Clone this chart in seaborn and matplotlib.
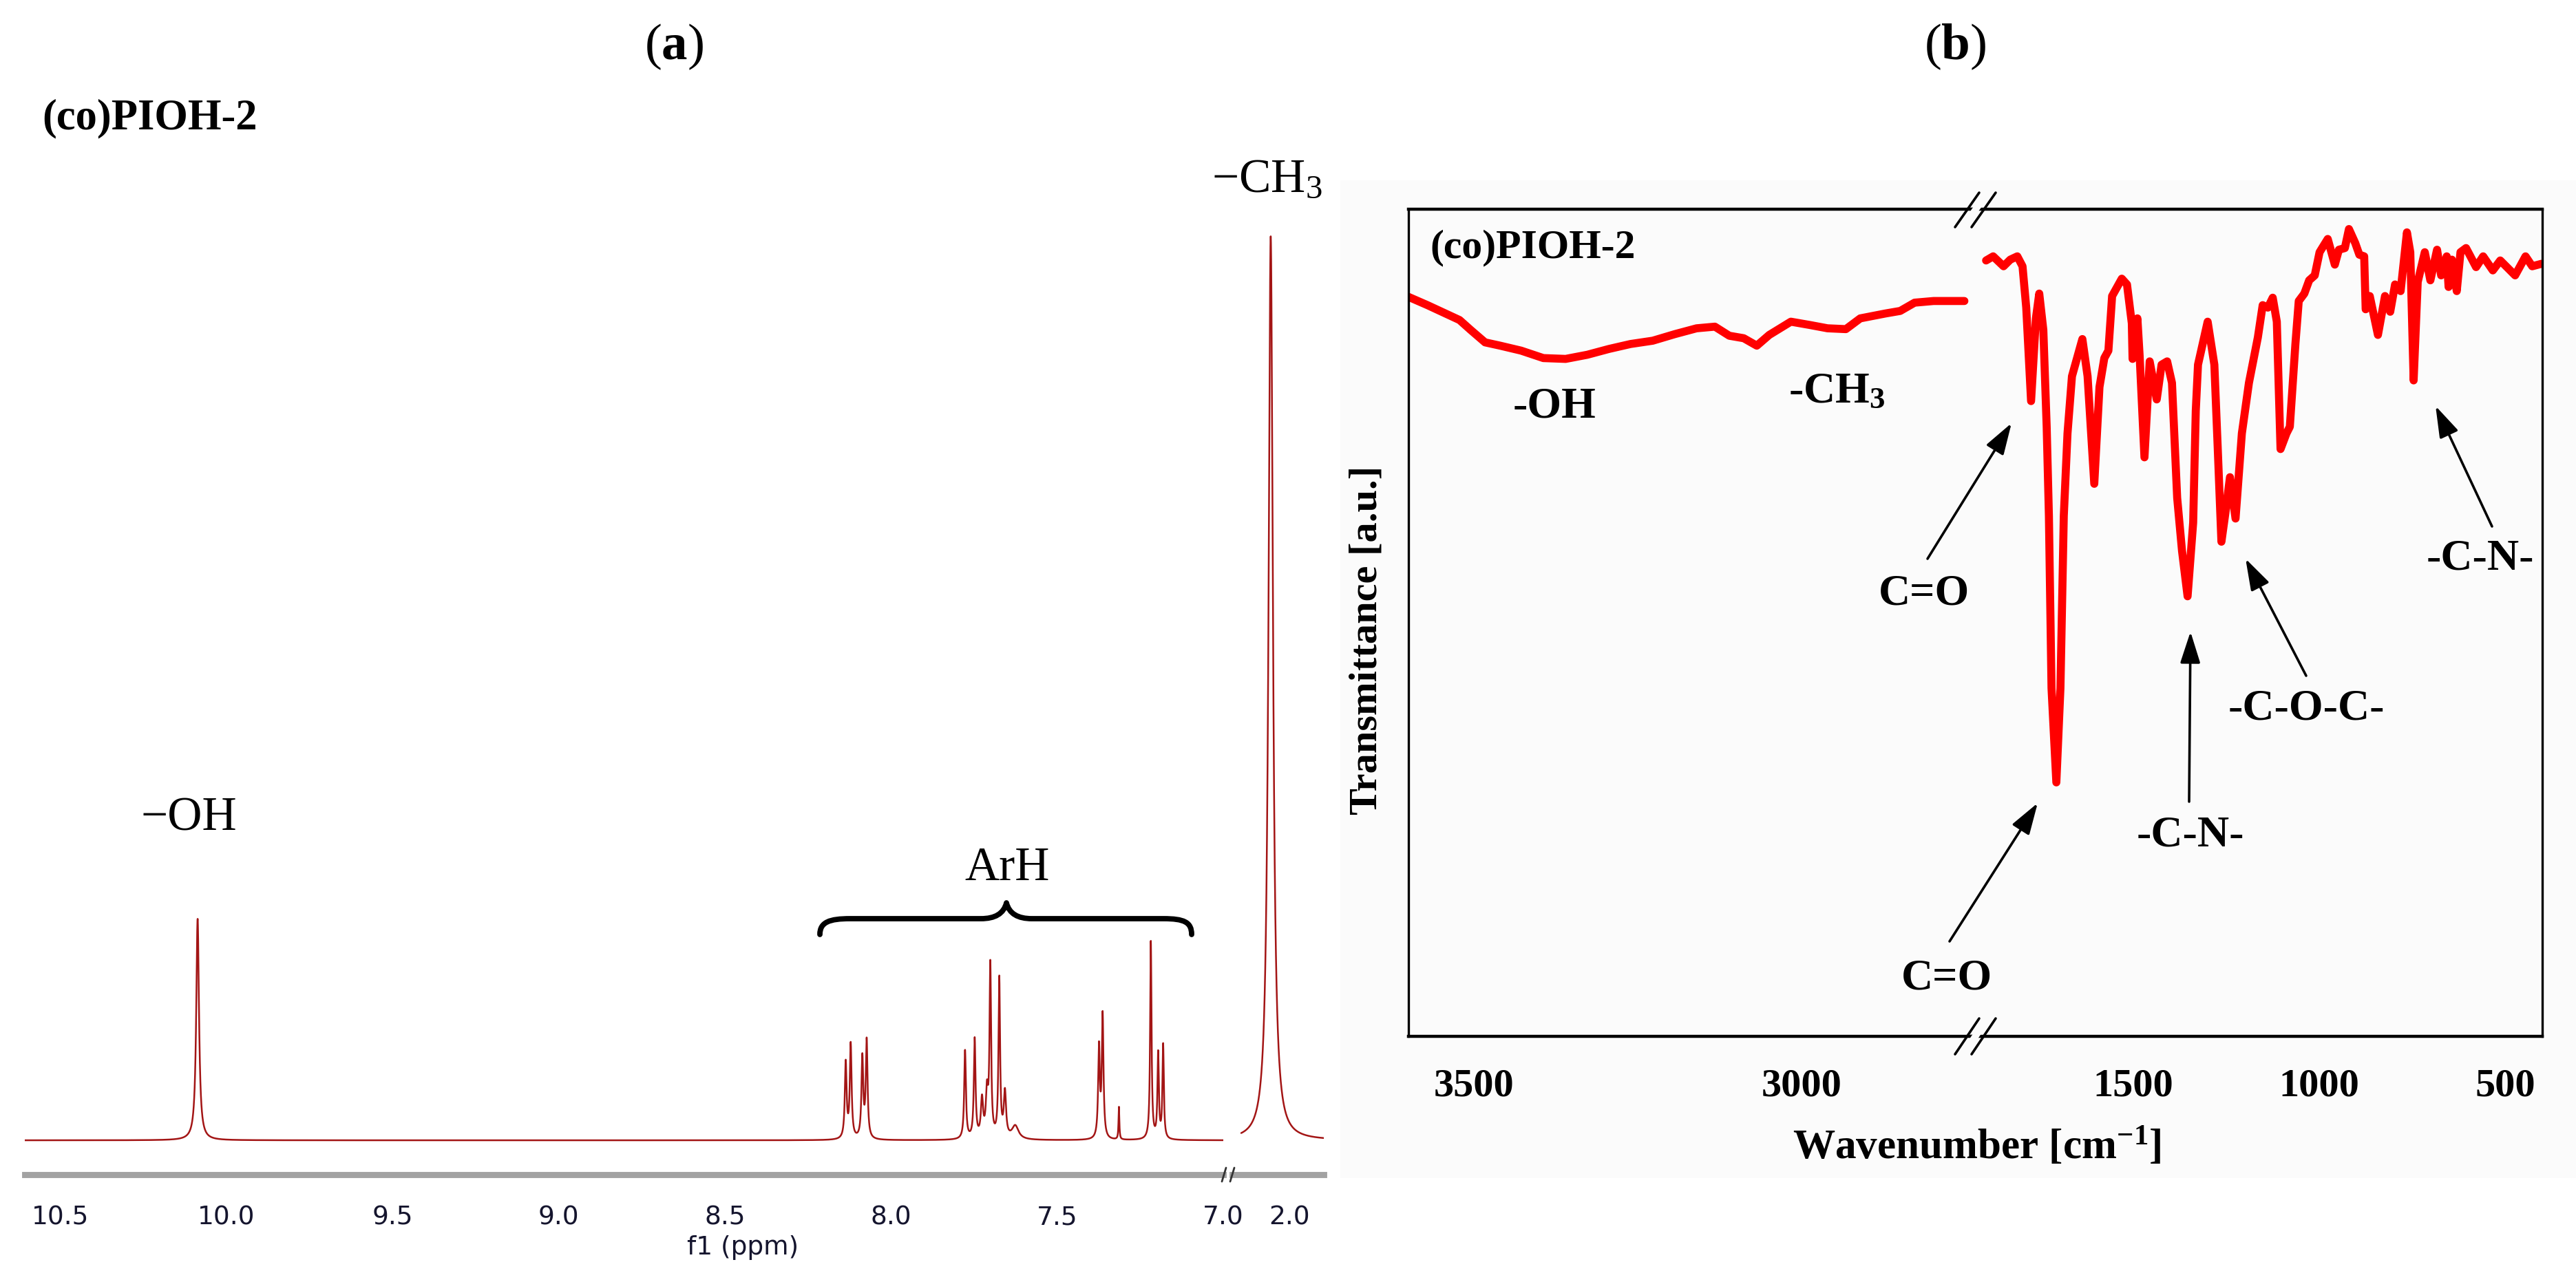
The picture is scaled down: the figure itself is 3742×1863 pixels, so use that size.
"""
NMR (a) and FTIR (b) spectra of (co)PIOH-2, redrawn with seaborn.
"""

import numpy as np
import pandas as pd
import matplotlib
matplotlib.use("Agg")
import matplotlib.pyplot as plt
import seaborn as sns
from matplotlib.path import Path
from matplotlib.patches import PathPatch, Rectangle, Polygon
from matplotlib.lines import Line2D


# figure size in pixels (saved at 200 dpi)
W, H = 3742, 1863
DPI = 200

# 1H NMR peaks: shift (ppm), height (CH3 = 100), half width (ppm)
NMR_SHIFT = [10.086, 8.136, 8.121, 8.086, 8.073, 7.777, 7.748, 7.726, 7.711,
             7.701, 7.674, 7.657, 7.626, 7.374, 7.363, 7.314, 7.218, 7.196,
             7.181, 2.056]
NMR_HEIGHT = [24.5, 8.4, 10.4, 8.9, 10.8, 9.8, 11.0, 4.2, 4.8,
              18.9, 17.6, 5.0, 1.5, 10.0, 13.6, 3.6, 21.9, 9.4,
              10.4, 100.0]
NMR_WIDTH = [0.005, 0.0032, 0.0032, 0.0032, 0.0032, 0.003, 0.003, 0.004, 0.004,
             0.0028, 0.0028, 0.004, 0.012, 0.003, 0.003, 0.0015, 0.0025, 0.0025,
             0.0025, 0.008]

NMR_MAJOR = [10.5, 10.0, 9.5, 9.0, 8.5, 8.0, 7.5, 7.0]
NMR_MINOR = [10.25, 9.75, 9.25, 8.75, 8.25, 7.75, 7.25]
NMR_MAJOR_2 = [2.0]

# FTIR trace: wavenumber (cm-1) and transmittance (a.u., 0-100)
IR_LEFT_WN = [3600, 3571, 3522, 3505, 3483, 3460, 3428, 3394, 3360, 3327,
              3294, 3261, 3227, 3193, 3160, 3132, 3110, 3088, 3068, 3049,
              3016, 2987, 2960, 2932, 2910, 2871, 2849, 2827, 2798, 2751]
IR_LEFT_T = [89.4, 88.4, 86.6, 85.4, 83.9, 83.5, 82.9, 82.0, 81.9, 82.4,
             83.1, 83.7, 84.1, 84.9, 85.6, 85.8, 84.7, 84.4, 83.5, 84.8,
             86.4, 86.0, 85.6, 85.5, 86.8, 87.4, 87.7, 88.7, 88.9, 88.9]

IR_RIGHT_WN = [1896, 1877, 1849, 1831, 1812, 1798, 1788, 1775, 1762, 1753,
               1742, 1733, 1727, 1720, 1707, 1696, 1687, 1677, 1665, 1637,
               1623, 1605, 1591, 1578, 1567, 1557, 1531, 1517, 1504, 1502,
               1489, 1483, 1470, 1456, 1437, 1424, 1409, 1396, 1382, 1369,
               1354, 1339, 1332, 1326, 1300, 1282, 1273, 1263, 1251, 1240,
               1225, 1208, 1189, 1165, 1152, 1138, 1125, 1114, 1104, 1088,
               1079, 1064, 1055, 1040, 1027, 1012, 999, 977, 958, 947,
               931, 920, 903, 892, 879, 875, 864, 842, 823, 809,
               796, 781, 764, 755, 746, 735, 716, 701, 683, 672,
               657, 652, 643, 630, 620, 605, 578, 559, 533, 513,
               473, 445, 427, 402]
IR_RIGHT_T = [93.8, 94.3, 93.1, 93.9, 94.3, 93.1, 88.1, 76.8, 86.8, 89.8,
              85.4, 73.7, 62.9, 42.1, 30.7, 42.1, 62.9, 72.9, 79.8, 84.3,
              79.8, 66.8, 78.5, 82.0, 82.9, 89.5, 91.6, 90.9, 86.2, 81.9,
              86.8, 82.3, 70.0, 81.6, 77.0, 81.2, 81.6, 79.0, 65.1, 58.7,
              53.2, 62.1, 75.6, 81.2, 86.4, 81.2, 71.2, 59.8, 63.7, 67.6,
              62.6, 72.9, 79.0, 84.5, 88.4, 88.1, 89.3, 86.4, 71.0, 72.9,
              73.7, 83.7, 88.9, 89.8, 91.4, 92.0, 94.8, 96.4, 93.3, 95.1,
              95.3, 97.6, 95.9, 94.5, 94.3, 87.9, 89.5, 84.8, 89.5, 87.6,
              90.9, 90.1, 97.2, 94.8, 79.3, 91.2, 94.8, 91.4, 95.1, 92.0,
              94.3, 90.6, 93.9, 90.1, 94.8, 95.3, 93.0, 94.3, 92.6, 93.8,
              92.0, 94.3, 93.1, 93.4]

IR_MAJOR_1 = [3500, 3000]
IR_MINOR_1 = [3250]
IR_MAJOR_2 = [1500, 1000, 500]
IR_MINOR_2 = [1750, 1250, 750]

NMR_COLOR = "#a31515"
IR_COLOR = "#ff0000"
BG_B = "#fbfbfb"


def px_rect(left, top, right, bottom):
    return [left / W, 1 - bottom / H, (right - left) / W, (bottom - top) / H]


def fxy(x, y):
    return (x / W, 1 - y / H)


def nmr_trace(ppm):
    y = np.zeros_like(ppm)
    for x0, h, w in zip(NMR_SHIFT, NMR_HEIGHT, NMR_WIDTH):
        y += h * w ** 2 / ((ppm - x0) ** 2 + w ** 2)
    return y


def style_nmr_axis(ax):
    for side in ["left", "right", "top"]:
        ax.spines[side].set_visible(False)
    ax.spines["bottom"].set_color("#a2a2a2")
    ax.spines["bottom"].set_linewidth(3.2)
    ax.set_yticks([])
    ax.set_ylabel("")
    ax.set_xlabel("")
    ax.set_facecolor("none")
    ax.set_ylim(-3.8, 103.3)
    ax.tick_params(axis="x", which="major", direction="out", length=7.2,
                   width=0.8, color="#333333", pad=9, labelsize=13.5,
                   labelcolor="#15152e", labelfontfamily="DejaVu Sans")
    ax.tick_params(axis="x", which="minor", direction="out", length=4,
                   width=0.8, color="#333333")


def style_ir_axis(ax, keep):
    for side in ["left", "right", "top", "bottom"]:
        ax.spines[side].set_color("black")
        ax.spines[side].set_linewidth(1.6 if side in ("top", "bottom") else 1.2)
        ax.spines[side].set_visible(side in keep)
    ax.set_yticks([])
    ax.set_ylabel("")
    ax.set_xlabel("")
    ax.set_facecolor("none")
    ax.set_ylim(0, 100)
    ax.tick_params(axis="x", which="major", direction="out", length=9.4,
                   width=1.3, color="black", pad=7.5, labelcolor="black")
    ax.tick_params(axis="x", which="minor", direction="out", length=5,
                   width=1.3, color="black")


def draw_nmr(fig):
    ax1 = fig.add_axes(px_rect(36, 300, 1777, 1707))
    ax2 = fig.add_axes(px_rect(1790, 300, 1923, 1707))

    ppm1 = np.linspace(10.606, 7.0, 14000)
    ppm2 = np.linspace(2.145, 1.896, 2000)
    df1 = pd.DataFrame({"ppm": ppm1, "intensity": nmr_trace(ppm1)})
    df2 = pd.DataFrame({"ppm": ppm2, "intensity": nmr_trace(ppm2)})

    sns.lineplot(data=df1, x="ppm", y="intensity", ax=ax1, color=NMR_COLOR,
                 linewidth=0.9, estimator=None, sort=False)
    sns.lineplot(data=df2, x="ppm", y="intensity", ax=ax2, color=NMR_COLOR,
                 linewidth=0.9, estimator=None, sort=False)

    ax1.set_xlim(10.606, 7.001)
    ax2.set_xlim(2.172, 1.896)
    style_nmr_axis(ax1)
    style_nmr_axis(ax2)

    ax1.set_xticks(NMR_MAJOR, labels=[f"{v:.1f}" for v in NMR_MAJOR])
    ax1.set_xticks(NMR_MINOR, minor=True)
    ax2.set_xticks(NMR_MAJOR_2, labels=[f"{v:.1f}" for v in NMR_MAJOR_2])

    ax1.set_xlabel("f1 (ppm)", fontsize=13.5, family="DejaVu Sans",
                   color="#15152e")
    ax1.xaxis.set_label_coords((1079 - 36) / 1741, (1707 - 1813) / 1407)
    ax1.xaxis.label.set_verticalalignment("center")

    # break marks on the ppm axis
    for x0 in (1775, 1787):
        fig.add_artist(Line2D([x0 / W, (x0 + 6) / W], [1 - 1717 / H, 1 - 1697 / H],
                              color="#333333", lw=1.0))

    # bracket over the aromatic region
    brace = [(1191, 1358), (1191, 1340), (1205, 1335), (1235, 1335),
             (1425, 1335), (1445, 1335), (1458, 1328), (1462, 1312),
             (1466, 1328), (1479, 1335), (1499, 1335), (1690, 1335),
             (1720, 1335), (1731, 1340), (1731, 1358)]
    codes = [Path.MOVETO, Path.CURVE4, Path.CURVE4, Path.CURVE4,
             Path.LINETO, Path.CURVE4, Path.CURVE4, Path.CURVE4,
             Path.CURVE4, Path.CURVE4, Path.CURVE4, Path.LINETO,
             Path.CURVE4, Path.CURVE4, Path.CURVE4]
    verts = [fxy(x, y) for x, y in brace]
    fig.add_artist(PathPatch(Path(verts, codes), transform=fig.transFigure,
                             facecolor="none", edgecolor="black", lw=2.8,
                             capstyle="round", joinstyle="round"))

    fig.text(*fxy(61, 172), "(co)PIOH-2", fontsize=22.5, fontweight="bold",
             ha="left", va="center")
    fig.text(*fxy(274, 1190), "\u2212OH", fontsize=25, ha="center", va="center")
    fig.text(*fxy(1463, 1262), "ArH", fontsize=25, ha="center", va="center")
    fig.text(*fxy(1840, 262), "\u2212CH$_3$", fontsize=25, ha="center",
             va="center")
    fig.text(*fxy(979, 68), "($\\mathbf{a}$)", fontsize=27, ha="center",
             va="center")


def draw_ir(fig):
    fig.add_artist(Rectangle(fxy(1947, 1712), (W - 1947) / W, (1712 - 262) / H,
                             transform=fig.transFigure, facecolor=BG_B,
                             edgecolor="none", zorder=-1))

    ax1 = fig.add_axes(px_rect(2046, 304, 2864, 1506))
    ax2 = fig.add_axes(px_rect(2864, 304, 3693, 1506))

    left = pd.DataFrame({"wavenumber": IR_LEFT_WN, "T": IR_LEFT_T})
    right = pd.DataFrame({"wavenumber": IR_RIGHT_WN, "T": IR_RIGHT_T})
    sns.lineplot(data=left, x="wavenumber", y="T", ax=ax1, color=IR_COLOR,
                 linewidth=4.2, estimator=None, solid_joinstyle="round",
                 solid_capstyle="round")
    sns.lineplot(data=right, x="wavenumber", y="T", ax=ax2, color=IR_COLOR,
                 linewidth=4.2, estimator=None, solid_joinstyle="round",
                 solid_capstyle="round")

    ax1.set_xlim(3600, 2740)
    ax2.set_xlim(1935, 400)
    style_ir_axis(ax1, ("left", "top", "bottom"))
    style_ir_axis(ax2, ("right", "top", "bottom"))

    ax1.set_xticks(IR_MAJOR_1, labels=[str(v) for v in IR_MAJOR_1],
                   fontsize=21, fontweight="bold")
    ax1.set_xticks(IR_MINOR_1, minor=True)
    ax2.set_xticks(IR_MAJOR_2, labels=[str(v) for v in IR_MAJOR_2],
                   fontsize=21, fontweight="bold")
    ax2.set_xticks(IR_MINOR_2, minor=True)

    ax1.set_ylabel("Transmittance [a.u.]", fontsize=21, fontweight="bold",
                   color="black")
    ax1.yaxis.set_label_coords((1985 - 2046) / 818, (1506 - 930) / 1202)
    ax1.yaxis.label.set_verticalalignment("center")

    fig.text(*fxy(2872, 1667), "Wavenumber [cm$^{\\mathbf{-1}}$]", fontsize=22,
             fontweight="bold", ha="center", va="center")

    # axis break marks at top and bottom of the frame
    for y_lo, y_hi in ((330, 280), (1532, 1480)):
        fig.add_artist(Polygon([fxy(2846, y_lo), fxy(2881, y_hi),
                                fxy(2893, y_hi), fxy(2858, y_lo)],
                               closed=True, transform=fig.transFigure,
                               facecolor=BG_B, edgecolor="none"))
        for x0 in (2840, 2864):
            a, b = fxy(x0, y_lo), fxy(x0 + 35, y_hi)
            fig.add_artist(Line2D([a[0], b[0]], [a[1], b[1]], color="black",
                                  lw=1.3))

    label_kw = dict(fontsize=23, fontweight="bold", ha="center", va="center")
    fig.text(*fxy(2077, 360), "(co)PIOH-2", fontsize=21.5, fontweight="bold",
             ha="left", va="center")
    fig.text(*fxy(2258, 591), "-OH", **label_kw)
    fig.text(*fxy(2668, 570), "-CH$_{\\mathbf{3}}$", **label_kw)
    fig.text(*fxy(2795, 863), "C=O", **label_kw)
    fig.text(*fxy(2828, 1423), "C=O", **label_kw)
    fig.text(*fxy(3182, 1215), "-C-N-", **label_kw)
    fig.text(*fxy(3350, 1030), "-C-O-C-", **label_kw)
    fig.text(*fxy(3603, 813), "-C-N-", **label_kw)
    fig.text(*fxy(2840, 68), "($\\mathbf{b}$)", fontsize=27, ha="center",
             va="center")

    arrows = [((2800, 812), (2922, 615)),
              ((2832, 1368), (2960, 1167)),
              ((3180, 1165), (3182, 918)),
              ((3350, 982), (3262, 812)),
              ((3620, 765), (3538, 590))]
    for tail, head in arrows:
        ax2.annotate("", xy=fxy(*head), xytext=fxy(*tail),
                     xycoords="figure fraction", textcoords="figure fraction",
                     annotation_clip=False,
                     arrowprops=dict(arrowstyle="-|>,head_length=1.0,head_width=0.32",
                                     color="black", lw=1.3, mutation_scale=14,
                                     shrinkA=0, shrinkB=0))


def main():
    sns.set_style("white")
    plt.rcParams["font.family"] = ["Liberation Serif", "DejaVu Serif"]
    plt.rcParams["text.color"] = "black"
    plt.rcParams["axes.labelcolor"] = "black"
    plt.rcParams["mathtext.fontset"] = "custom"
    plt.rcParams["mathtext.rm"] = "Liberation Serif"
    plt.rcParams["mathtext.it"] = "Liberation Serif:italic"
    plt.rcParams["mathtext.bf"] = "Liberation Serif:bold"

    fig = plt.figure(figsize=(W / DPI, H / DPI), dpi=DPI, facecolor="white")
    draw_nmr(fig)
    draw_ir(fig)
    fig.savefig("out.png", dpi=DPI, facecolor="white")


if __name__ == "__main__":
    main()
